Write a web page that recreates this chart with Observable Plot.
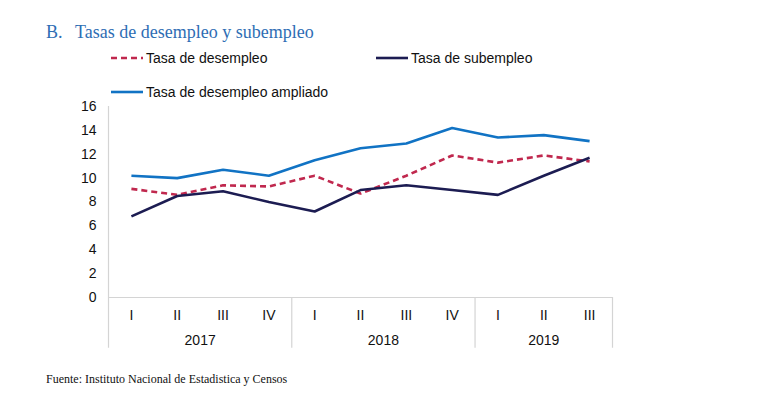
<!DOCTYPE html>
<html>
<head>
<meta charset="utf-8">
<script src="https://cdn.jsdelivr.net/npm/d3@7"></script>
<script src="https://cdn.jsdelivr.net/npm/@observablehq/plot@0.6"></script>
<style>
  html, body { margin: 0; padding: 0; background: #fff; }
  #wrap { position: relative; width: 767px; height: 394px; overflow: hidden; }
  #chart { position: absolute; left: 0; top: 0; }
  .title { position: absolute; top: 22px; font-family: "Liberation Serif", "Times New Roman", serif; font-size: 18px; color: #2E6DB4; white-space: pre; }
  .legend { position: absolute; font-family: "Liberation Sans", Arial, sans-serif; font-size: 14px; color: #111; display: flex; align-items: center; white-space: nowrap; }
  .legend svg { margin-right: 3px; }
  .caption { position: absolute; left: 46px; top: 372px; font-family: "Liberation Serif", "Times New Roman", serif; font-size: 12px; color: #111; }
</style>
</head>
<body>
<div id="wrap">
  <div id="chart"></div>
  <div class="title" style="left:46px">B.</div>
  <div class="title" style="left:75px">Tasas de desempleo y subempleo</div>
  <div id="legend"></div>
  <div class="caption">Fuente: Instituto Nacional de Estadistica y Censos</div>
</div>
<script>
const years = ["2017", "2018", "2019"];
const yearStart = [0, 4, 8];
const yearEnd = [3, 7, 10];
const quarters = ["I", "II", "III", "IV", "I", "II", "III", "IV", "I", "II", "III"];
const desempleo = [9.1, 8.6, 9.4, 9.3, 10.2, 8.7, 10.2, 11.9, 11.3, 11.9, 11.4];
const subempleo = [6.8, 8.5, 8.9, 8.0, 7.2, 9.0, 9.4, 9.0, 8.6, 10.2, 11.7];
const ampliado = [10.2, 10.0, 10.7, 10.2, 11.5, 12.5, 12.9, 14.2, 13.4, 13.6, 13.1];
const yTicks = [0, 2, 4, 6, 8, 10, 12, 14, 16];

const seriesNames = ["Tasa de desempleo", "Tasa de subempleo", "Tasa de desempleo ampliado"];
const seriesValues = [desempleo, subempleo, ampliado];
const seriesColors = ["#C0284E", "#1C1C52", "#1173C4"];
const seriesDash = ["6,4", null, null];

const rows = [];
seriesValues.forEach((vals, s) => vals.forEach((v, i) => rows.push({serie: seriesNames[s], i, v})));

const idx = quarters.map((q, i) => i);
const separators = [-0.5, ...yearEnd.map(e => e + 0.5)];
const yearMid = years.map((y, k) => (yearStart[k] + yearEnd[k]) / 2);

const marks = [
  Plot.ruleY([0], {stroke: "#d4d4d4", strokeWidth: 1.2}),
  Plot.ruleX(separators, {y1: (d, k) => k === 0 ? 16 : 0, y2: -4.25, stroke: "#d4d4d4", strokeWidth: 1.2}),
  Plot.axisY({ticks: yTicks, tickSize: 0, tickPadding: 12, fontSize: 14, label: null, fill: "#111", fontFamily: "Liberation Sans, Arial, sans-serif"}),
  Plot.text(idx, {x: d => d, y: -1.5, text: d => quarters[d], fontSize: 14, fill: "#111", fontFamily: "Liberation Sans, Arial, sans-serif"}),
  Plot.text(years, {x: (d, k) => yearMid[k], y: -3.6, text: d => d, fontSize: 14, fill: "#111", fontFamily: "Liberation Sans, Arial, sans-serif"})
];
seriesNames.forEach((name, s) => {
  marks.push(Plot.line(rows.filter(r => r.serie === name), {
    x: "i", y: "v", stroke: seriesColors[s], strokeWidth: 2.6,
    strokeDasharray: seriesDash[s] || undefined, strokeLinejoin: "miter", strokeLinecap: "butt"
  }));
});

const chart = Plot.plot({
  width: 767,
  height: 394,
  marginLeft: 108,
  marginRight: 155,
  marginTop: 106,
  marginBottom: 97,
  x: {domain: [-0.5, 10.5], axis: null},
  y: {domain: [0, 16], axis: null},
  style: {fontFamily: "Liberation Sans, Arial, sans-serif", background: "transparent", overflow: "visible"},
  marks
});
document.getElementById("chart").appendChild(chart);

// Legend
const legendPos = [[111, 50], [376, 50], [111, 84]];
const legendEl = document.getElementById("legend");
seriesNames.forEach((name, s) => {
  const div = document.createElement("div");
  div.className = "legend";
  div.style.left = legendPos[s][0] + "px";
  div.style.top = legendPos[s][1] + "px";
  div.innerHTML = `<svg width="32" height="6"><line x1="0" y1="3" x2="32" y2="3" stroke="${seriesColors[s]}" stroke-width="2.6" ${seriesDash[s] ? `stroke-dasharray="${seriesDash[s]}"` : ""}/></svg><span>${name}</span>`;
  legendEl.appendChild(div);
});
</script>
</body>
</html>
